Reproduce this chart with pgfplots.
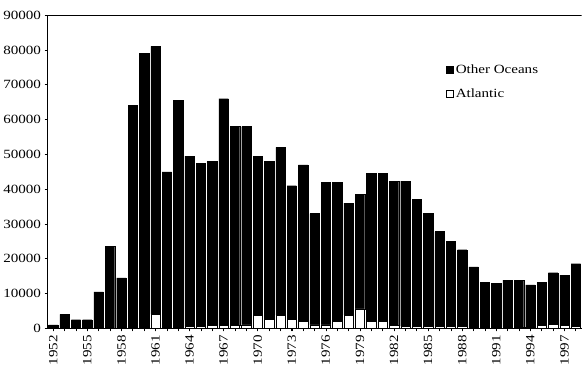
\documentclass[border=0pt]{standalone}
\usepackage{pgfplots}
\usepackage{pgfplotstable}
\pgfplotsset{compat=1.18}
\usepackage{fontspec}
\setmainfont{Liberation Serif}
\newfontfamily\tickfont[FakeStretch=1.2]{Liberation Serif}
\pgfplotstableread{
year atl other
1952 0 1000
1953 0 4000
1954 0 2500
1955 0 2500
1956 0 10500
1957 0 23500
1958 0 14500
1959 0 64000
1960 0 79000
1961 4000 77000
1962 0 45000
1963 0 65500
1964 500 49000
1965 500 47000
1966 800 47200
1967 800 65200
1968 800 57200
1969 1000 57000
1970 3800 45700
1971 2600 45400
1972 3800 48200
1973 2600 38400
1974 2000 45000
1975 1000 32000
1976 1000 41000
1977 2000 40000
1978 3800 32200
1979 5600 32900
1980 2000 42500
1981 2000 42500
1982 800 41500
1983 600 41700
1984 500 36500
1985 500 32500
1986 500 27300
1987 500 24500
1988 500 22100
1989 300 17400
1990 300 13000
1991 300 12700
1992 300 13600
1993 300 13600
1994 300 12200
1995 800 12500
1996 1200 14800
1997 800 14500
1998 500 18100
}\datatable
\begin{document}
\begin{tikzpicture}
\begin{axis}[
  name=main,
  width=530bp, height=311bp, scale only axis,
  ybar stacked, bar width=9.3bp,
  xmin=1951.5, xmax=1998.5, ymin=0, ymax=90000,
  axis x line*=bottom, axis y line*=left,
  axis line style={black, line width=1pt},
  ytick={0,10000,...,90000},
  xtick={1952,1955,...,1997},
  minor xtick={1952,...,1998},
  scaled y ticks=false, scaled x ticks=false,
  /pgf/number format/1000 sep={},
  /pgf/number format/assume math mode=true,
  tick label style={font=\tickfont\fontsize{12.5}{13}\selectfont},
  x tick label style={rotate=90, anchor=east},
  tick align=outside, major tick length=3bp, minor tick length=3bp,
  tick style={black, line width=0.6pt},
  legend style={draw=none, fill=none, at={(0.74,0.855)}, anchor=north west,
    font=\tickfont\fontsize{12.5}{13}\selectfont, row sep=10bp},
  legend cell align=left,
  reverse legend,
  legend image code/.code={\draw[#1, line width=0.8pt] (0bp,-3.5bp) rectangle (7bp,3.5bp);},
]
\addplot[fill=white, draw=black, line width=0.4pt] table[x=year, y=atl] {\datatable};
\addlegendentry{Atlantic}
\addplot[fill=black, draw=black, line width=0.3pt] table[x=year, y=other] {\datatable};
\addlegendentry{Other Oceans}
\draw[black, line width=1pt] (rel axis cs:0,1) -- (rel axis cs:1,1);
\end{axis}
\path ([yshift=15bp]main.north);
\end{tikzpicture}
\end{document}
